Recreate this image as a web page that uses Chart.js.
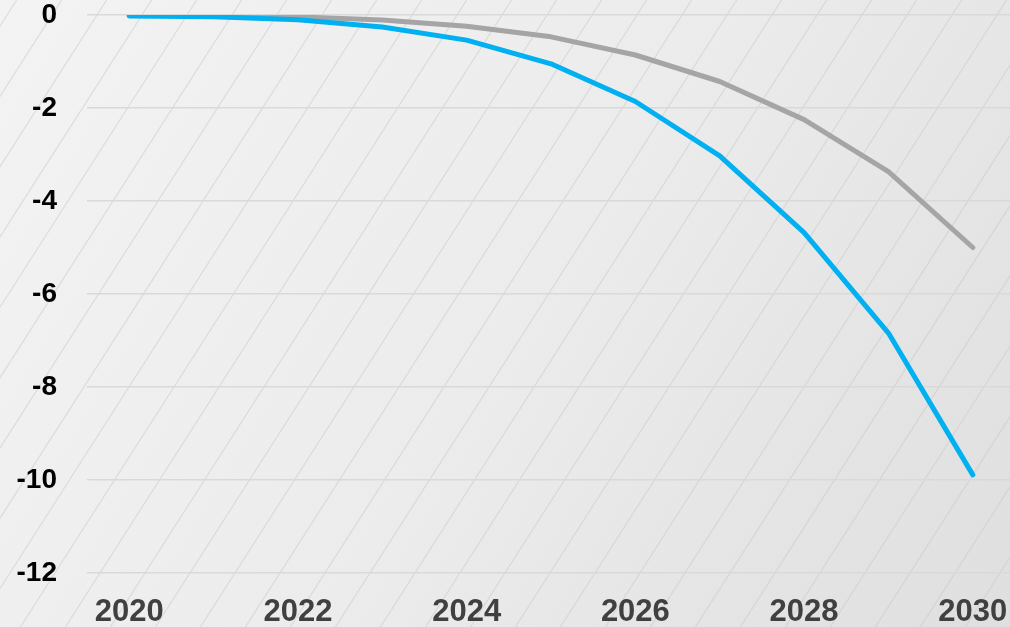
<!DOCTYPE html>
<html>
<head>
<meta charset="utf-8">
<script src="https://cdn.jsdelivr.net/npm/chart.js@4"></script>
<style>
  html, body { margin: 0; padding: 0; overflow: hidden; background: #eeeeee; }
  #wrap { position: relative; width: 1015px; height: 627px; }
</style>
</head>
<body>
<div id="wrap"><canvas id="chart"></canvas></div>
<script>
// Valores
const anos = [2020, 2021, 2022, 2023, 2024, 2025, 2026, 2027, 2028, 2029, 2030];
const serieCinza = [0, -0.01, -0.04, -0.11, -0.24, -0.47, -0.86, -1.43, -2.25, -3.37, -5.0];
const serieAzul = [-0.02, -0.04, -0.1, -0.26, -0.54, -1.05, -1.86, -3.03, -4.68, -6.84, -9.89];
const ticksY = [0, -2, -4, -6, -8, -10, -12];
const ticksX = [2020, 2022, 2024, 2026, 2028, 2030];

// fundo: degradê + linhas diagonais
const fundo = {
  id: 'fundo',
  beforeDraw(chart) {
    const { ctx, width, height } = chart;
    ctx.save();
    const g = ctx.createLinearGradient(0, 0, width, height);
    g.addColorStop(0, '#f3f3f3');
    g.addColorStop(0.5, '#ececec');
    g.addColorStop(1, '#dfdfdf');
    ctx.fillStyle = g;
    ctx.fillRect(0, 0, width, height);
    ctx.strokeStyle = 'rgba(200,200,200,0.5)';
    ctx.lineWidth = 1.2;
    const s = 0.64, passo = 45;
    for (let x = -height; x < width + height; x += passo) {
      // linha passa por (x + 20, 201)
      const x0 = x + 20 + 201 * s;
      ctx.beginPath();
      ctx.moveTo(x0, 0);
      ctx.lineTo(x0 - height * s, height);
      ctx.stroke();
    }
    ctx.restore();
  }
};

new Chart(document.getElementById('chart'), {
  type: 'line',
  data: {
    datasets: [
      {
        label: 'Azul',
        data: anos.map((a, i) => ({ x: a, y: serieAzul[i] })),
        borderColor: '#00b0f0',
        borderWidth: 5,
        pointRadius: 0,
        tension: 0,
        borderCapStyle: 'round',
        borderJoinStyle: 'round'
      },
      {
        label: 'Cinza',
        data: anos.map((a, i) => ({ x: a, y: serieCinza[i] })),
        borderColor: '#a5a5a5',
        borderWidth: 5,
        pointRadius: 0,
        tension: 0,
        borderCapStyle: 'round',
        borderJoinStyle: 'round'
      }
    ]
  },
  options: {
    responsive: true,
    maintainAspectRatio: false,
    animation: false,
    layout: { padding: { top: 15, left: 0, right: 0, bottom: 0 } },
    plugins: { legend: { display: false }, tooltip: { enabled: false } },
    scales: {
      x: {
        type: 'linear',
        min: 2019.5,
        max: 2030.5,
        afterBuildTicks: s => { s.ticks = ticksX.map(v => ({ value: v })); },
        afterFit: s => { s.height = 54; s.paddingLeft = 0; s.paddingRight = 0; },
        grid: { display: false, drawTicks: false },
        border: { display: false },
        ticks: {
          padding: 21,
          color: '#404040',
          font: { family: 'Liberation Sans', size: 31, weight: 'bold' },
          callback: v => String(v),
          maxRotation: 0
        }
      },
      y: {
        min: -12,
        max: 0,
        afterBuildTicks: s => { s.ticks = ticksY.map(v => ({ value: v })); },
        afterFit: s => { s.width = 87; s.paddingTop = 0; s.paddingBottom = 0; },
        grid: { color: '#d9d9d9', lineWidth: 1.5, drawTicks: false },
        border: { display: false },
        ticks: {
          padding: 30,
          color: '#000000',
          font: { family: 'Liberation Sans', size: 28, weight: 'bold' }
        }
      }
    }
  },
  plugins: [fundo]
});
</script>
</body>
</html>
